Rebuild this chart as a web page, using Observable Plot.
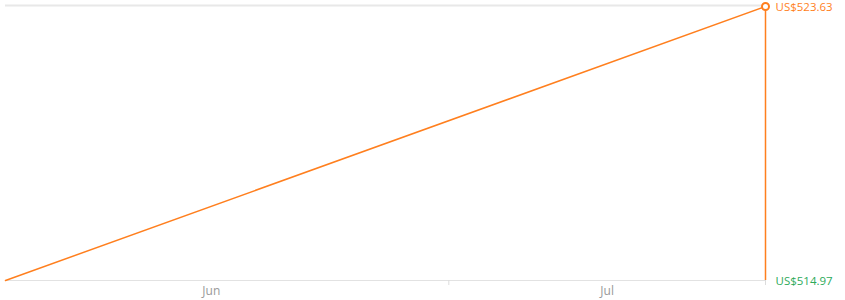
<!DOCTYPE html>
<html>
<head>
<meta charset="utf-8">
<script src="https://cdn.jsdelivr.net/npm/d3@7"></script>
<script src="https://cdn.jsdelivr.net/npm/@observablehq/plot@0.6"></script>
<style>
  html, body { margin: 0; padding: 0; background: #fff; }
  #chart svg { display: block; overflow: visible; font-family: "Open Sans", "Noto Sans", sans-serif; }
</style>
</head>
<body>
<div id="chart"></div>
<script>
// Data
const dates = ["2024-05-20", "2024-07-31"];
const prices = [514.97, 523.63];
const tickDates = ["2024-07-01", "2024-07-31"];
const labelDates = ["2024-06-08T12:00Z", "2024-07-16"];
const monthLabels = ["Jun", "Jul"];
const priceLabels = ["US$514.97", "US$523.63"];

const orange = "#ff7f1e";
const green = "#2daa5a";

const points = dates.map((d, i) => ({date: new Date(d), price: prices[i]}));
const yMin = d3.min(prices), yMax = d3.max(prices);
const endDate = new Date(dates[dates.length - 1]);
const startDate = new Date(dates[0]);

const chart = Plot.plot({
  width: 845,
  height: 300,
  marginLeft: 5,
  marginRight: 80,
  marginTop: 6,
  marginBottom: 20,
  style: {fontFamily: "'Open Sans', 'Noto Sans', sans-serif", fontSize: "12px", background: "#fff", overflow: "visible"},
  x: {type: "utc", domain: [startDate, endDate], axis: null},
  y: {domain: [yMin, yMax], axis: null},
  marks: [
    Plot.ruleY([yMax], {stroke: "#e8e8e8", strokeWidth: 2, dy: -1}),
    Plot.ruleY([yMin], {stroke: "#e2e2e2", strokeWidth: 1}),
    Plot.axisX(tickDates.map(d => new Date(d)), {tickSize: 5, stroke: "#dcdcdc", tickFormat: () => "", anchor: "bottom"}),
    Plot.axisX(labelDates.map(d => new Date(d)), {tickSize: 0, tickPadding: 6, tickFormat: (d, i) => monthLabels[i], fill: "#999", fontSize: 12, anchor: "bottom"}),
    Plot.ruleX([endDate], {y1: yMin, y2: yMax, stroke: orange, strokeWidth: 1.5}),
    Plot.line(points, {x: "date", y: "price", stroke: orange, strokeWidth: 1.5}),
    Plot.dot([points[points.length - 1]], {x: "date", y: "price", r: 3.5, fill: "#fff", stroke: orange, strokeWidth: 2}),
    Plot.text([{date: endDate, price: yMax, label: priceLabels[1]}], {x: "date", y: "price", text: "label", dx: 10, dy: 1, textAnchor: "start", fill: orange, fontSize: 11.5}),
    Plot.text([{date: endDate, price: yMin, label: priceLabels[0]}], {x: "date", y: "price", text: "label", dx: 10, dy: 1, textAnchor: "start", fill: green, fontSize: 11.5})
  ]
});
document.getElementById("chart").appendChild(chart);
</script>
</body>
</html>
